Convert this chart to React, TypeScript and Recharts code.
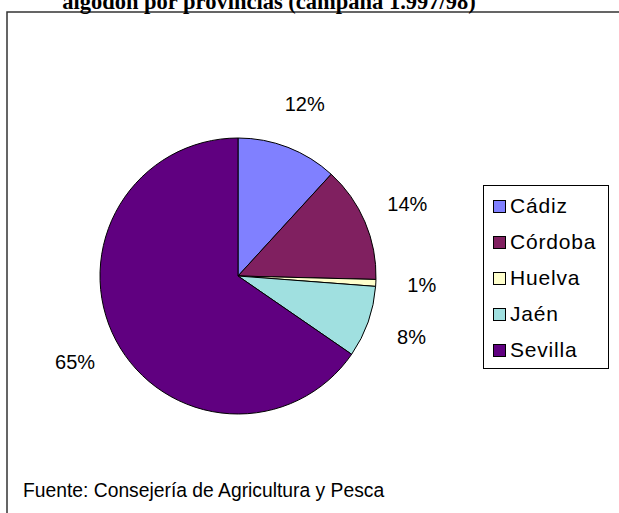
import { PieChart, Pie, Cell, Legend } from "recharts";

// share of cotton area by province, 1997/98 season (percent)
const provinces = ["Cádiz", "Córdoba", "Huelva", "Jaén", "Sevilla"];
const shares = [11.8, 13.6, 0.8, 8.4, 65.4];

const COLORS: Record<string, string> = {
  Cádiz: "#8080ff",
  Córdoba: "#802060",
  Huelva: "#ffffcc",
  Jaén: "#a0e0e0",
  Sevilla: "#600080",
};

const data = provinces.map((p, i) => ({ name: p, value: shares[i] }));

const RAD = Math.PI / 180;

function PctLabel(props: any) {
  const { cx, cy, midAngle, outerRadius, percent } = props;
  const r = outerRadius + 46;
  const x = cx + r * Math.cos(-midAngle * RAD);
  const y = cy + r * Math.sin(-midAngle * RAD);
  return (
    <text
      x={x}
      y={y}
      textAnchor="middle"
      dominantBaseline="central"
      fill="#000"
      style={{ fontFamily: "'Liberation Sans', Arial, sans-serif", fontSize: 20 }}
    >
      {`${Math.round(percent * 100)}%`}
    </text>
  );
}

function LegendBox({ payload }: any) {
  return (
    <div
      style={{
        border: "1px solid #000",
        background: "#fff",
        width: 126,
        height: 184,
        boxSizing: "border-box",
        padding: "2px 0 0 9px",
      }}
    >
      {(payload || []).map((p: any) => (
        <div
          key={p.value}
          style={{ display: "flex", alignItems: "center", height: 36, whiteSpace: "nowrap" }}
        >
          <span
            style={{
              width: 11,
              height: 11,
              background: p.color,
              border: "1px solid #000",
              marginRight: 4,
              flexShrink: 0,
            }}
          />
          <span
            style={{
              fontFamily: "'Liberation Sans', Arial, sans-serif",
              fontSize: 21,
              color: "#000",
              letterSpacing: 0.8,
            }}
          >
            {p.value}
          </span>
        </div>
      ))}
    </div>
  );
}

export default function App() {
  return (
    <div
      style={{
        position: "fixed",
        left: 0,
        top: 0,
        width: 619,
        height: 513,
        overflow: "hidden",
        background: "#fff",
      }}
    >
      <svg
        width={619}
        height={513}
        style={{ position: "absolute", left: 0, top: 0 }}
      >
        <rect x={7} y={12} width={700} height={600} fill="#fff" stroke="#333" strokeWidth={1.5} />
        <text
          x={269}
          y={9}
          textAnchor="middle"
          style={{
            fontFamily: "'Liberation Serif', 'Times New Roman', serif",
            fontSize: 22.5,
            fontWeight: "bold",
          }}
        >
          algodón por provincias (campaña 1.997/98)
        </text>
        <text
          x={23}
          y={497}
          style={{ fontFamily: "'Liberation Sans', Arial, sans-serif", fontSize: 19.3 }}
        >
          Fuente: Consejería de Agricultura y Pesca
        </text>
      </svg>
      <div style={{ position: "absolute", left: 0, top: 0 }}>
        <PieChart width={619} height={513} margin={{ top: 0, right: 0, bottom: 0, left: 0 }}>
          <Pie
            data={data}
            dataKey="value"
            nameKey="name"
            cx={238}
            cy={276}
            outerRadius={138}
            startAngle={90}
            endAngle={-270}
            stroke="#000"
            strokeWidth={1}
            label={PctLabel}
            labelLine={false}
            isAnimationActive={false}
          >
            {data.map((d) => (
              <Cell key={d.name} fill={COLORS[d.name]} />
            ))}
          </Pie>
          <Legend
            layout="vertical"
            align="right"
            verticalAlign="top"
            content={<LegendBox />}
            wrapperStyle={{ left: 483, top: 185, width: 126 }}
          />
        </PieChart>
      </div>
    </div>
  );
}
